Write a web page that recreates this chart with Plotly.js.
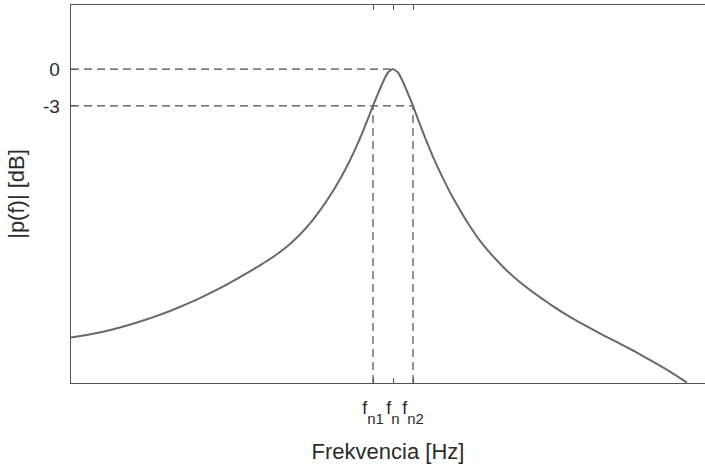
<!DOCTYPE html>
<html>
<head>
<meta charset="utf-8">
<script src="https://cdn.plot.ly/plotly-3.0.1.min.js"></script>
<style>
  html, body { margin: 0; padding: 0; background: #fff; }
  #chart { width: 705px; height: 464px; }
</style>
</head>
<body>
<div id="chart"></div>
<script>
// Resonance curve: magnitude of p(f) in dB against frequency (arbitrary Hz scale)
const freq = [0, 17, 33, 49, 66, 83, 99, 116, 132, 149, 165, 179, 189, 199, 209, 219, 229, 239, 249, 259, 269, 279, 285, 291, 297, 302, 307, 312, 317, 322,
              327, 332, 337, 342, 347, 352, 357, 362, 367, 372, 377, 382, 390, 397, 405, 412, 421, 429, 437, 446, 458, 471, 483, 496, 508, 521, 533, 546, 563, 581, 599, 616];
const levelDb = [-21.81, -21.58, -21.32, -20.99, -20.59, -20.13, -19.65, -19.08, -18.49, -17.80, -17.09, -16.43, -15.94, -15.43, -14.86, -14.21, -13.44, -12.54, -11.48, -10.29, -8.95, -7.41, -6.37, -5.24, -4.02, -3.00, -1.99, -1.05, -0.28, 0,
                 -0.28, -1.05, -1.99, -3.00, -4.09, -5.15, -6.16, -7.14, -8.03, -8.88, -9.69, -10.46, -11.59, -12.53, -13.50, -14.27, -15.12, -15.81, -16.46, -17.11, -17.88, -18.65, -19.32, -19.99, -20.55, -21.12, -21.65, -22.18, -22.90, -23.72, -24.57, -25.46];

// Marked frequencies: lower -3 dB point, resonance, upper -3 dB point
const fn1 = 302, fn = 322, fn2 = 342;
const tickFreqs = [fn1, fn, fn2];
const subStyle = 'font-size:15px;baseline-shift:-10px';
const tickNames = [
  'f<span style="' + subStyle + '">n1</span>',
  'f<span style="' + subStyle + '">n</span>',
  'f<span style="' + subStyle + '">n2</span>'
];

const dbTicks = [0, -3];
const dbTickNames = ['0', '-3'];

const xRange = [0, 634];
const yRange = [-25.5, 5.2];

const lineGrey = '#555555';
const dashGrey = '#4d4d4d';
const textGrey = '#2b2b2b';
const dashStyle = '8px,5px';

function dashed(x0, y0, x1, y1) {
  return {
    type: 'line', xref: 'x', yref: 'y', x0: x0, y0: y0, x1: x1, y1: y1,
    line: { color: dashGrey, width: 1.2, dash: dashStyle }, layer: 'below'
  };
}

const trace = {
  x: freq,
  y: levelDb,
  mode: 'lines',
  line: { color: '#696969', width: 2, shape: 'spline', smoothing: 0.4 },
  hoverinfo: 'skip'
};

const layout = {
  width: 705,
  height: 464,
  margin: { l: 71, r: 0, t: 5, b: 81 },
  paper_bgcolor: '#ffffff',
  plot_bgcolor: '#ffffff',
  showlegend: false,
  font: { family: '"Liberation Sans", Arial, sans-serif', color: textGrey, size: 18 },
  xaxis: {
    range: xRange,
    tickmode: 'array',
    tickvals: tickFreqs,
    ticktext: tickNames,
    tickangle: 0,
    ticks: 'inside',
    ticklen: 5,
    tickcolor: lineGrey,
    tickfont: { size: 18 },
    ticklabelstandoff: 8,
    showgrid: false,
    zeroline: false,
    showline: true,
    linecolor: lineGrey,
    linewidth: 1.4,
    mirror: 'ticks',
    title: { text: 'Frekvencia [Hz]', font: { size: 22 }, standoff: 17 }
  },
  yaxis: {
    range: yRange,
    tickmode: 'array',
    tickvals: dbTicks,
    ticktext: dbTickNames,
    ticks: 'inside',
    ticklen: 5,
    tickcolor: lineGrey,
    tickfont: { size: 19 },
    ticklabelstandoff: 6,
    showgrid: false,
    zeroline: false,
    showline: true,
    linecolor: lineGrey,
    linewidth: 1.4,
    title: { text: '|p(f)| [dB]', font: { size: 22 }, standoff: 12 }
  },
  shapes: [
    dashed(xRange[0], 0, fn, 0),
    dashed(xRange[0], -3, fn2, -3),
    dashed(fn1, yRange[0], fn1, -3),
    dashed(fn2, yRange[0], fn2, -3)
  ]
};

Plotly.newPlot('chart', [trace], layout, { displayModeBar: false, staticPlot: true });
</script>
</body>
</html>
